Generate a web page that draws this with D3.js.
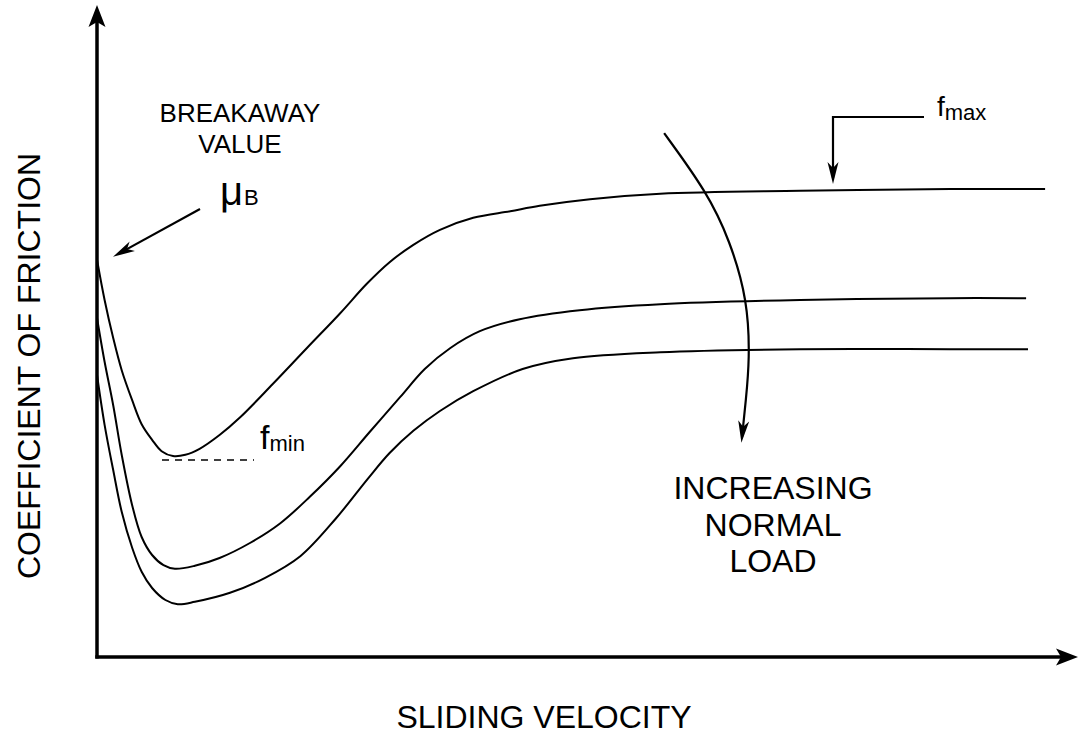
<!DOCTYPE html>
<html>
<head>
<meta charset="utf-8">
<script src="https://cdn.jsdelivr.net/npm/d3@7"></script>
<style>
  body { margin: 0; background: #fff; }
  text { font-family: "Liberation Sans", Arial, sans-serif; fill: #000; }
</style>
</head>
<body>
<svg id="chart" width="1080" height="736"></svg>
<script>

// sliding velocity / friction coefficient (arbitrary units, 0-100)
var v1 = [0, 0.8, 1.7, 2.6, 3.7, 4.7, 5.8, 6.8, 8.0, 9.3, 10.8, 12.9, 15.1, 18.5, 22.1, 25.6, 28.4, 30.8, 33.3, 36.1, 39.6, 43.5, 46.6, 51.9, 59.3, 74.0, 89.8, 99.8]
var f1 = [66.2, 59.5, 53.2, 47.8, 42.8, 38.8, 36.2, 34.3, 33.5, 33.7, 34.7, 37.0, 40.0, 45.5, 51.5, 57.3, 62.2, 65.8, 68.7, 71.2, 73.2, 74.3, 75.2, 76.3, 77.2, 77.7, 78.0, 78.0]

var v2 = [0, 0.8, 1.7, 2.6, 3.7, 4.7, 5.8, 7.0, 8.2, 10.3, 12.9, 16.1, 19.3, 22.4, 25.6, 28.7, 31.9, 34.5, 37.2, 40.3, 44.5, 50.8, 59.3, 74.0, 89.8, 97.8]
var f2 = [56.5, 49.2, 42.0, 33.7, 25.3, 20.0, 17.0, 15.3, 14.7, 15.2, 16.5, 19.0, 22.3, 26.7, 31.8, 37.5, 43.3, 48.0, 51.5, 54.3, 56.3, 57.8, 58.8, 59.5, 59.8, 59.8]

var v3 = [0, 0.8, 1.7, 2.6, 3.7, 4.7, 5.8, 7.2, 8.5, 10.3, 14.0, 17.7, 21.4, 25.1, 28.5, 30.8, 33.3, 36.1, 39.6, 44.8, 50.1, 59.3, 74.0, 89.8, 98.0]
var f3 = [47.0, 38.7, 31.2, 24.2, 18.2, 14.2, 11.5, 9.5, 8.8, 9.2, 10.7, 13.2, 16.8, 23.0, 29.7, 34.0, 37.7, 41.0, 44.3, 48.0, 49.8, 50.8, 51.3, 51.3, 51.3]

// the "increasing normal load" arrow, in the same units
var loadV = [59.7, 64.2, 66.6, 68.5, 68.7, 68.3, 67.9]
var loadF = [87.3, 77.5, 69.5, 59.5, 49.5, 42.8, 36.7]

var xLabel = "SLIDING VELOCITY"
var yLabel = "COEFFICIENT OF FRICTION"
var loadLabel = ["INCREASING", "NORMAL", "LOAD"]
var breakLabel = ["BREAKAWAY", "VALUE"]

var svg = d3.select("#chart")

var x = d3.scaleLinear().domain([0, 100]).range([97, 1047])
var y = d3.scaleLinear().domain([0, 100]).range([657, 57])

// arrow heads
var defs = svg.append("defs")
function marker(id, len, half, notch, back) {
	defs.append("marker")
		.attr("id", id)
		.attr("viewBox", (-len - 1) + " " + (-half - 1) + " " + (len + 2) + " " + (2 * half + 2))
		.attr("refX", -back).attr("refY", 0)
		.attr("markerWidth", len + 2).attr("markerHeight", 2 * half + 2)
		.attr("markerUnits", "userSpaceOnUse")
		.attr("orient", "auto")
	  .append("path")
		.attr("d", "M0,0 L" + (-len) + "," + (-half) + " L" + (-len + notch) + ",0 L" + (-len) + "," + half + " Z")
		.attr("fill", "#000")
}
marker("bigArrow", 22, 8.5, 5, 8)
marker("smallArrow", 22, 5.5, 6, 6)

// axes
var x0 = x(0), y0 = y(0)
svg.append("line")
	.attr("x1", x0).attr("y1", y0 + 1.5)
	.attr("x2", x0).attr("y2", 5 + 8)
	.attr("stroke", "#000").attr("stroke-width", 3.5)
	.attr("marker-end", "url(#bigArrow)")
svg.append("line")
	.attr("x1", x0 - 1.7).attr("y1", y0)
	.attr("x2", 1078 - 8).attr("y2", y0)
	.attr("stroke", "#000").attr("stroke-width", 3.5)
	.attr("marker-end", "url(#bigArrow)")

// the three friction curves
var line = d3.line()
	.x(function(d) { return x(d[0]) })
	.y(function(d) { return y(d[1]) })
	.curve(d3.curveCatmullRom.alpha(0.5))

var curves = [d3.zip(v1, f1), d3.zip(v2, f2), d3.zip(v3, f3)]
svg.selectAll("path.curve")
	.data(curves).enter()
	.append("path")
	.attr("class", "curve")
	.attr("d", line)
	.attr("fill", "none")
	.attr("stroke", "#000")
	.attr("stroke-width", 2)

// axis titles
svg.append("text")
	.attr("x", 544).attr("y", 728)
	.attr("text-anchor", "middle")
	.style("font-size", "32px")
	.text(xLabel)
svg.append("text")
	.attr("transform", "translate(40,366) rotate(-90)")
	.attr("text-anchor", "middle")
	.style("font-size", "32px")
	.text(yLabel)

// breakaway value
svg.selectAll("text.brk")
	.data(breakLabel).enter()
	.append("text")
	.attr("class", "brk")
	.attr("x", 240)
	.attr("y", function(d, i) { return 122 + i * 31 })
	.attr("text-anchor", "middle")
	.style("font-size", "26px")
	.text(function(d) { return d })

var mu = svg.append("text").attr("x", 220).attr("y", 205)
mu.append("tspan").style("font-size", "40px").text("\u03bc")
mu.append("tspan").attr("dx", 1).style("font-size", "22px").text("B")

var muTipX = x(v1[0]) + 16, muTipY = y(f1[0]) - 3
var ang = Math.atan2(muTipY - 209, muTipX - 200)
svg.append("line")
	.attr("x1", 200).attr("y1", 209)
	.attr("x2", muTipX - 6 * Math.cos(ang)).attr("y2", muTipY - 6 * Math.sin(ang))
	.attr("stroke", "#000").attr("stroke-width", 2.2)
	.attr("marker-end", "url(#smallArrow)")

// f min
var fminY = y(d3.min(f1)) + 4
svg.append("line")
	.attr("x1", 162).attr("y1", fminY)
	.attr("x2", 254).attr("y2", fminY)
	.attr("stroke", "#000").attr("stroke-width", 1.6)
	.attr("stroke-dasharray", "7,6")
var fmin = svg.append("text").attr("x", 260).attr("y", 449)
fmin.append("tspan").style("font-size", "34px").text("f")
fmin.append("tspan").attr("dy", 2).style("font-size", "22px").text("min")

// f max
var fmaxX = 833
var fmaxTip = y(d3.max(f1)) - 5
svg.append("path")
	.attr("d", "M924,117 L" + fmaxX + ",117 L" + fmaxX + "," + (fmaxTip - 6))
	.attr("fill", "none")
	.attr("stroke", "#000").attr("stroke-width", 2.2)
	.attr("marker-end", "url(#smallArrow)")
var fmax = svg.append("text").attr("x", 937).attr("y", 116)
fmax.append("tspan").style("font-size", "28px").text("f")
fmax.append("tspan").attr("dy", 4).style("font-size", "22px").text("max")

// increasing normal load
var loadLine = d3.line()
	.x(function(d) { return x(d[0]) })
	.y(function(d) { return y(d[1]) })
	.curve(d3.curveBasis)
svg.append("path")
	.attr("d", loadLine(d3.zip(loadV, loadF)))
	.attr("fill", "none")
	.attr("stroke", "#000").attr("stroke-width", 2.2)
	.attr("marker-end", "url(#smallArrow)")

svg.selectAll("text.load")
	.data(loadLabel).enter()
	.append("text")
	.attr("class", "load")
	.attr("x", 773)
	.attr("y", function(d, i) { return 499 + i * 36.5 })
	.attr("text-anchor", "middle")
	.style("font-size", "32px")
	.text(function(d) { return d })

</script>
</body>
</html>
